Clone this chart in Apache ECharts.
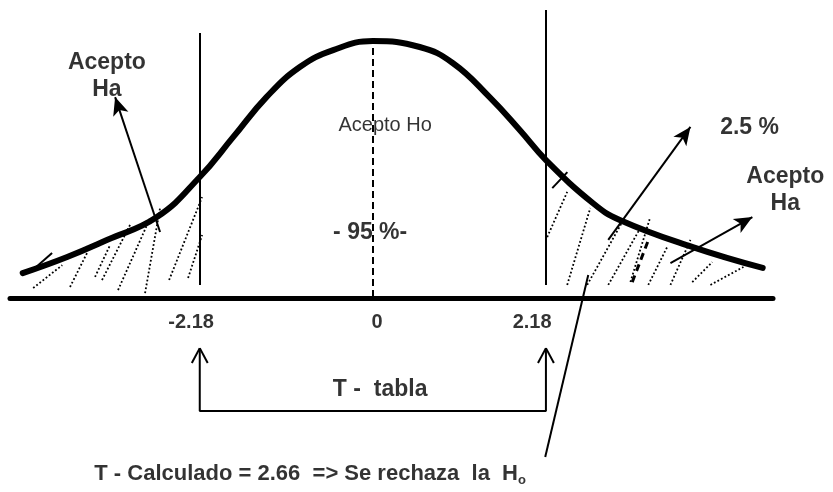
<!DOCTYPE html>
<html>
<head>
<meta charset="utf-8">
<script src="https://cdn.jsdelivr.net/npm/echarts@6/dist/echarts.min.js"></script>
<style>
  html, body { margin: 0; padding: 0; background: #fff; }
  #chart { width: 833px; height: 492px; }
</style>
</head>
<body>
<div id="chart"></div>
<script>
// hand drawn t curve: t value and height (in % of the peak)
var curveT = [-4.41, -3.85, -3.35, -2.72, -2.18, -1.76, -1.34, -0.92, -0.50, 0, 0.59, 1.01, 1.47, 1.85, 2.18, 2.77, 3.11, 4.03, 4.91];
var curveH = [9.7, 16.0, 22.6, 31.5, 47.1, 62.6, 78.2, 89.9, 96.5, 100, 97.7, 91.4, 78.2, 65.4, 53.7, 37.0, 30.4, 19.8, 11.7];

// critical values (T - tabla)
var tCritical = [-2.18, 2.18];
var criticalTop = [103.2, 112.1];   // where each vertical line ends at the top
var criticalBottom = 5.1;

// tick labels under the axis
var tickText = ['-2.18', '0', '2.18'];
var tickT = [-2.289, 0.054, 2.006];
var tickH = -9.5;

// hatching of the rejection zones, [t1, h1, t2, h2]
var hatchLeft = [
  [-4.278, 3.9, -3.912, 12.8], [-3.814, 4.3, -3.600, 17.5], [-3.499, 8.2, -3.310, 20.6],
  [-3.411, 7.0, -3.046, 29.2], [-3.209, 3.1, -2.806, 31.1], [-2.869, 1.9, -2.680, 35.0],
  [-2.566, 7.0, -2.150, 39.3], [-2.327, 7.8, -2.150, 24.5]
];
var hatchRight = [
  [2.196, 23.7, 2.448, 41.3], [2.448, 5.1, 2.738, 35.0], [2.700, 5.1, 3.141, 29.6],
  [2.965, 5.1, 3.368, 27.2], [3.244, 6.2, 3.494, 31.5], [3.469, 5.1, 3.708, 19.9],
  [3.748, 5.1, 4.000, 22.6], [4.023, 6.2, 4.275, 14.0], [4.252, 5.1, 4.668, 12.1]
];
var hatchDashed = [[3.267, 6.2, 3.481, 23.4]];

// other strokes: slanted pointer to T calculado, small pen marks
var strokes = [
  [2.171, -61.9, 2.713, 8.95],
  [-4.255, 11.7, -4.04, 17.5],
  [2.26, 42.8, 2.45, 49.0]
];
var meanLine = [0, 0.4, 0, 99.3];

// arrows pointing at the labels
var arrows = [
  [-2.68, 25.7, -3.246, 78.2],
  [2.965, 22.6, 4.0, 66.6],
  [3.748, 13.6, 4.78, 31.5]
];

// T - tabla bracket
var bracketTip = -19.5;
var bracketBase = -44.0;

// annotations
var noteText = ['Acepto\nHa', '2.5 %', 'Acepto\nHa', 'Acepto Ho', '- 95 %-', 'T -  tabla',
                'T - Calculado = 2.66  => Se rechaza  la  H'];
var noteT = [-3.35, 4.745, 5.195, 0.155, -0.034, 0.092, -0.79];
var noteH = [86.4, 66.2, 42.0, 67.3, 25.3, -35.8, -68.5];

var FONT = '"Liberation Sans", Arial, Helvetica, sans-serif';

function segs(list) {
  return list.map(function (s) { return [{ coord: [s[0], s[1]] }, { coord: [s[2], s[3]] }]; });
}

// markLine defaults to dashed, so every group says its own type
function strokeSeries(list, lineStyle, symbol, symbolSize) {
  return {
    type: 'line', data: [], silent: true,
    markLine: {
      silent: true, animation: false,
      symbol: symbol || 'none', symbolSize: symbolSize || 0,
      label: { show: false },
      lineStyle: Object.assign({ color: '#000', opacity: 1, type: 'solid' }, lineStyle),
      emphasis: { disabled: true },
      data: segs(list)
    }
  };
}

var curveData = curveT.map(function (t, i) { return [t, curveH[i]]; });

var criticalLines = tCritical.map(function (t, i) { return [t, criticalBottom, t, criticalTop[i]]; });

var bracketData = [[tCritical[0], bracketTip], [tCritical[0], bracketBase],
                   [tCritical[1], bracketBase], [tCritical[1], bracketTip]];
var chevrons = [];
tCritical.forEach(function (t) {
  chevrons.push([t - 0.1, bracketTip - 5.8, t, bracketTip]);
  chevrons.push([t + 0.1, bracketTip - 5.8, t, bracketTip]);
});

var noteData = noteText.map(function (txt, i) {
  var label = { fontSize: 23, fontWeight: 'bold', lineHeight: 27 };
  if (i === 3) label = { fontSize: 20, fontWeight: 'normal', lineHeight: 24 };
  if (i === 6) {
    label = {
      fontSize: 22, fontWeight: 'bold',
      formatter: '{m|' + txt + '}{s|o}',
      rich: {
        m: { fontSize: 22, fontWeight: 'bold', lineHeight: 26, fontFamily: FONT, color: '#000' },
        s: { fontSize: 13, fontWeight: 'bold', lineHeight: 12, verticalAlign: 'bottom', fontFamily: FONT, color: '#000' }
      }
    };
  }
  return { name: txt, value: [noteT[i], noteH[i]], label: label };
});

var tickData = tickText.map(function (txt, i) { return { name: txt, value: [tickT[i], tickH] }; });

var labelSeries = function (data, fontSize) {
  return {
    type: 'scatter', data: data, clip: false, silent: true,
    symbolSize: 1, itemStyle: { color: 'rgba(0,0,0,0)' },
    label: {
      show: true, position: 'inside', formatter: '{b}', color: '#000',
      fontFamily: FONT, fontSize: fontSize, fontWeight: 'bold', align: 'center', verticalAlign: 'middle'
    },
    emphasis: { disabled: true }
  };
};

var chart = echarts.init(document.getElementById('chart'));

chart.setOption({
  animation: false,
  backgroundColor: '#fff',
  grid: { left: 10, right: 60, top: 0, bottom: 0 },
  xAxis: {
    type: 'value', min: -4.57, max: 5.04,
    axisLine: { show: true, onZero: true, lineStyle: { color: '#000', width: 5 } },
    axisTick: { show: false }, axisLabel: { show: false }, splitLine: { show: false }
  },
  yAxis: {
    type: 'value', min: -75.5, max: 116, show: false,
    splitLine: { show: false }
  },
  series: [
    {
      type: 'line', data: curveData, smooth: 0.45, symbol: 'none', silent: true, z: 5,
      lineStyle: { color: '#000', width: 6, cap: 'round' }
    },
    strokeSeries(hatchLeft.concat(hatchRight), { width: 1.8, type: [1.8, 2.2] }),
    strokeSeries(hatchDashed, { width: 3, type: [7, 5] }),
    strokeSeries(criticalLines.concat(strokes), { width: 2 }),
    strokeSeries([meanLine], { width: 2, type: [7, 4] }),
    strokeSeries(arrows, { width: 2 }, ['none', 'arrow'], [12, 18]),
    strokeSeries(chevrons, { width: 2 }),
    {
      type: 'line', data: bracketData, symbol: 'none', silent: true,
      lineStyle: { color: '#000', width: 2 }
    },
    labelSeries(tickData, 20),
    labelSeries(noteData, 23)
  ]
});
</script>
</body>
</html>
